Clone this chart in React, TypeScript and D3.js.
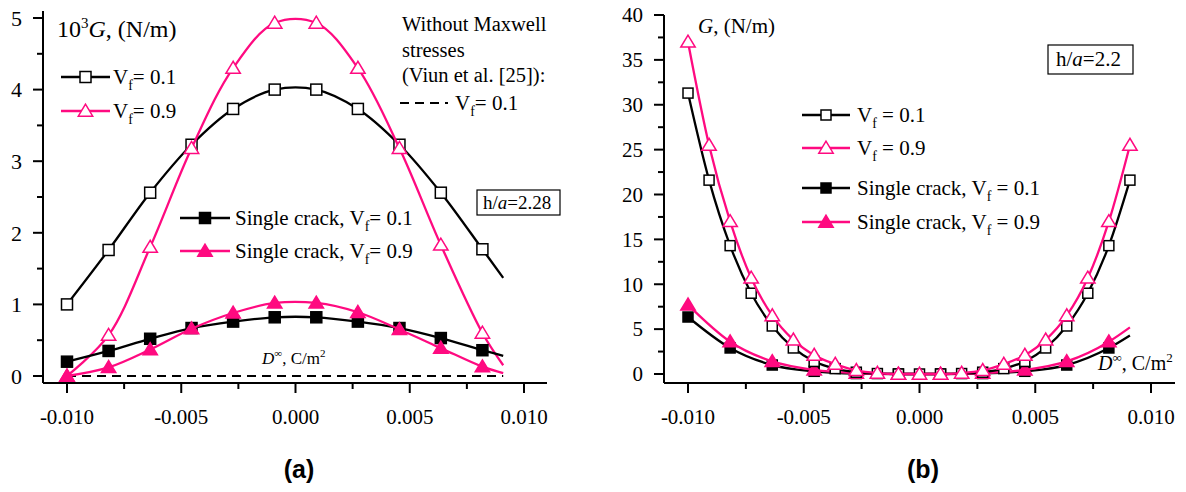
import * as d3 from "d3";

// panel (a): markers every 0.02/11, curves run on to 0.00909
const xA = [-0.01, -0.00818, -0.00636, -0.00455, -0.00273, -0.00091, 0.00091, 0.00273, 0.00455, 0.00636, 0.00818, 0.00909];
const aVf01 = [1.0, 1.76, 2.56, 3.23, 3.73, 4.0, 4.0, 3.73, 3.23, 2.56, 1.77, 1.37];
const aVf09 = [0.0, 0.57, 1.8, 3.18, 4.3, 4.93, 4.93, 4.3, 3.18, 1.83, 0.6, 0.15];
const aSingle01 = [0.2, 0.35, 0.52, 0.67, 0.76, 0.82, 0.82, 0.76, 0.67, 0.53, 0.36, 0.28];
const aSingle09 = [0.0, 0.12, 0.37, 0.66, 0.88, 1.02, 1.02, 0.89, 0.65, 0.39, 0.13, 0.04];
const aNoMaxwellX = [-0.01, 0.00909];
const aNoMaxwellG = [0, 0];

// panel (b)
const xB = [-0.01, -0.00909, -0.00818, -0.00727, -0.00636, -0.00545, -0.00455, -0.00364, -0.00273, -0.00182, -0.00091, 0, 0.00091, 0.00182, 0.00273, 0.00364, 0.00455, 0.00545, 0.00636, 0.00727, 0.00818, 0.00909];
const bVf01 = [31.3, 21.6, 14.3, 9.0, 5.35, 2.9, 1.4, 0.6, 0.2, 0.05, 0.0, 0.0, 0.0, 0.05, 0.2, 0.6, 1.4, 2.9, 5.35, 9.0, 14.3, 21.6];
const bVf09 = [37.0, 25.5, 17.0, 10.7, 6.5, 3.8, 2.1, 1.1, 0.4, 0.1, 0.0, 0.0, 0.0, 0.1, 0.4, 1.1, 2.1, 3.8, 6.5, 10.7, 17.0, 25.5];
const xBSingle = [-0.01, -0.00818, -0.00636, -0.00455, -0.00273, -0.00091, 0.00091, 0.00273, 0.00455, 0.00636, 0.00818, 0.00909];
const bSingle01 = [6.35, 2.9, 1.0, 0.3, 0.05, 0.0, 0.0, 0.05, 0.3, 1.0, 2.9, 4.3];
const bSingle09 = [7.7, 3.6, 1.4, 0.45, 0.1, 0.0, 0.0, 0.1, 0.45, 1.4, 3.6, 5.2];

const xMajor = [-0.01, -0.005, 0, 0.005, 0.01];
const xMinor = [-0.0075, -0.0025, 0.0025, 0.0075];
const aYMajor = [0, 1, 2, 3, 4, 5];
const aYMinor = [0.5, 1.5, 2.5, 3.5, 4.5];
const bYMajor = [0, 5, 10, 15, 20, 25, 30, 35, 40];
const bYMinor = [2.5, 7.5, 12.5, 17.5, 22.5, 27.5, 32.5, 37.5];

const PINK = "#ff0a80";
const FONT = "'Liberation Serif', 'Times New Roman', serif";

const fmtX = (v: number) => d3.format(".3f")(v).replace("\u2212", "-");

type Mk = "sq" | "sqFill" | "tri" | "triFill";

const Marker = ({ kind, x, y, s }: { kind: Mk; x: number; y: number; s: number }) => {
  const color = kind.startsWith("sq") ? "#000" : PINK;
  const fill = kind.endsWith("Fill") ? color : "#fff";
  if (kind.startsWith("sq")) {
    return <rect x={x - s / 2} y={y - s / 2} width={s} height={s} fill={fill} stroke={color} strokeWidth={1.5} />;
  }
  const h = s * 0.95;
  const pts = [[x, y - h * 0.6], [x - s * 0.6, y + h * 0.45], [x + s * 0.6, y + h * 0.45]];
  return <polygon points={pts.map((p) => p.join(",")).join(" ")} fill={fill} stroke={color} strokeWidth={1.5} />;
};

const Series = ({ xs, ys, x, y, kind, s, marks, curve }: any) => {
  const color = kind.startsWith("sq") ? "#000" : PINK;
  const line = d3.line<number>().x((_, i) => x(xs[i])).y((d) => y(d)).curve(curve);
  return (
    <g>
      <path d={line(ys) || ""} fill="none" stroke={color} strokeWidth={2.3} />
      {ys.slice(0, marks).map((v: number, i: number) => (
        <Marker key={i} kind={kind} x={x(xs[i])} y={y(v)} s={s} />
      ))}
    </g>
  );
};

const Axes = ({ x, y, x0, x1, y0, y1, yMajor, yMinor, ySize }: any) => (
  <g stroke="#000" fontFamily={FONT} fontSize={21}>
    <line x1={x0} x2={x1} y1={y0} y2={y0} strokeWidth={2} />
    <line x1={x0} x2={x0} y1={y1} y2={y0} strokeWidth={2} />
    {xMajor.map((t) => (
      <g key={"xm" + t}>
        <line x1={x(t)} x2={x(t)} y1={y0} y2={y0 + 10} strokeWidth={2} />
        <text x={x(t)} y={424} textAnchor="middle" stroke="none" fill="#000">{fmtX(t)}</text>
      </g>
    ))}
    {xMinor.map((t) => (
      <line key={"xn" + t} x1={x(t)} x2={x(t)} y1={y0} y2={y0 + 6} strokeWidth={2} />
    ))}
    {yMajor.map((t: number) => (
      <g key={"ym" + t}>
        <line x1={x0 - 10} x2={x0} y1={y(t)} y2={y(t)} strokeWidth={2} />
        <text x={x0 - 21} y={y(t)} dy="0.35em" textAnchor="end" stroke="none" fill="#000" fontSize={ySize}>{t}</text>
      </g>
    ))}
    {yMinor.map((t: number) => (
      <line key={"yn" + t} x1={x0 - 6} x2={x0} y1={y(t)} y2={y(t)} strokeWidth={2} />
    ))}
  </g>
);

const VfText = ({ x, y, pre = "", v, gap = "", size = 21 }: any) => (
  <text x={x} y={y} fontFamily={FONT} fontSize={size} fill="#000">
    {pre}V<tspan dy={6} fontSize={size * 0.66}>f</tspan>
    <tspan dy={-6}>{gap}= {v}</tspan>
  </text>
);

const LegendRow = ({ x1, x2, y, kind, s, label }: any) => {
  const color = kind.startsWith("sq") ? "#000" : PINK;
  return (
    <g>
      <line x1={x1} x2={x2} y1={y} y2={y} stroke={color} strokeWidth={2.3} />
      <Marker kind={kind} x={(x1 + x2) / 2} y={y} s={s} />
      {label}
    </g>
  );
};

export default function App() {
  const ax = d3.scaleLinear().domain([-0.01, 0.01]).range([67, 524]);
  const ay = d3.scaleLinear().domain([0, 5]).range([376, 18]);
  const bx = d3.scaleLinear().domain([-0.01, 0.01]).range([688, 1151]);
  const by = d3.scaleLinear().domain([0, 40]).range([374, 15]);
  const cr = d3.curveCatmullRom.alpha(0.5);
  const mono = d3.curveMonotoneX;
  const dashLine = d3.line<number>().x((_, i) => ax(aNoMaxwellX[i])).y((d) => ay(d));

  return (
    <svg width={1186} height={492} style={{ position: "absolute", left: 0, top: 0, background: "#fff" }}>
      {/* panel (a) */}
      <Axes x={ax} y={ay} x0={43} x1={547} y0={383} y1={11} yMajor={aYMajor} yMinor={aYMinor} ySize={22} />
      <path d={dashLine(aNoMaxwellG) || ""} fill="none" stroke="#000" strokeWidth={2.2} strokeDasharray="9 6" />
      <Series xs={xA} ys={aVf01} x={ax} y={ay} kind="sq" s={11} marks={11} curve={cr} />
      <Series xs={xA} ys={aVf09} x={ax} y={ay} kind="tri" s={12} marks={11} curve={cr} />
      <Series xs={xA} ys={aSingle01} x={ax} y={ay} kind="sqFill" s={11} marks={11} curve={cr} />
      <Series xs={xA} ys={aSingle09} x={ax} y={ay} kind="triFill" s={12} marks={11} curve={cr} />

      <text x={57} y={37} fontFamily={FONT} fontSize={24} fill="#000">
        10<tspan dy={-9} fontSize={15}>3</tspan>
        <tspan dy={9} fontStyle="italic">G</tspan>, (N/m)
      </text>
      <LegendRow x1={61} x2={110} y={77} kind="sq" s={11} label={<VfText x={113} y={84} v="0.1" />} />
      <LegendRow x1={61} x2={110} y={111} kind="tri" s={12} label={<VfText x={113} y={118} v="0.9" />} />
      <g fontFamily={FONT} fontSize={20.5} fill="#000">
        <text x={402} y={31}>Without Maxwell</text>
        <text x={402} y={57}>stresses</text>
        <text x={402} y={82}>(Viun et al. [25]):</text>
      </g>
      <line x1={400} x2={448} y1={103} y2={103} stroke="#000" strokeWidth={2.2} strokeDasharray="9 6" />
      <VfText x={455} y={110} v="0.1" />
      <rect x={477} y={190} width={83} height={25} fill="#fff" stroke="#000" strokeWidth={1.2} />
      <text x={483} y={209} fontFamily={FONT} fontSize={19} fill="#000">
        h/<tspan fontStyle="italic">a</tspan>=2.28
      </text>
      <LegendRow x1={180} x2={230} y={218} kind="sqFill" s={11} label={<VfText x={235} y={225} pre="Single crack, " v="0.1" />} />
      <LegendRow x1={180} x2={230} y={251} kind="triFill" s={12} label={<VfText x={235} y={258} pre="Single crack, " v="0.9" />} />
      <text x={262} y={364} fontFamily={FONT} fontSize={17} fill="#000">
        <tspan fontStyle="italic">D</tspan>
        <tspan dy={-7} fontSize={11}>∞</tspan>
        <tspan dy={7}>, C/m</tspan>
        <tspan dy={-7} fontSize={11}>2</tspan>
      </text>

      {/* panel (b) */}
      <Axes x={bx} y={by} x0={664} x1={1175} y0={383} y1={15} yMajor={bYMajor} yMinor={bYMinor} ySize={21} />
      <Series xs={xBSingle} ys={bSingle01} x={bx} y={by} kind="sqFill" s={10} marks={11} curve={mono} />
      <Series xs={xBSingle} ys={bSingle09} x={bx} y={by} kind="triFill" s={12} marks={11} curve={mono} />
      <Series xs={xB} ys={bVf01} x={bx} y={by} kind="sq" s={10} marks={22} curve={mono} />
      <Series xs={xB} ys={bVf09} x={bx} y={by} kind="tri" s={12} marks={22} curve={mono} />

      <text x={698} y={33} fontFamily={FONT} fontSize={21} fill="#000">
        <tspan fontStyle="italic">G</tspan>, (N/m)
      </text>
      <rect x={1048} y={45} width={85} height={29} fill="#fff" stroke="#000" strokeWidth={1.2} />
      <text x={1056} y={66} fontFamily={FONT} fontSize={21} fill="#000">
        h/<tspan fontStyle="italic">a</tspan>=2.2
      </text>
      <LegendRow x1={802} x2={850} y={115} kind="sq" s={10} label={<VfText x={857} y={122} v="0.1" gap=" " />} />
      <LegendRow x1={802} x2={850} y={148} kind="tri" s={12} label={<VfText x={857} y={155} v="0.9" gap=" " />} />
      <LegendRow x1={802} x2={850} y={188} kind="sqFill" s={10} label={<VfText x={857} y={195} pre="Single crack, " v="0.1" gap=" " />} />
      <LegendRow x1={802} x2={850} y={222} kind="triFill" s={12} label={<VfText x={857} y={229} pre="Single crack, " v="0.9" gap=" " />} />
      <text x={1098} y={370} fontFamily={FONT} fontSize={20} fill="#000">
        <tspan fontStyle="italic">D</tspan>
        <tspan dy={-8} fontSize={13}>∞</tspan>
        <tspan dy={8}>, C/m</tspan>
        <tspan dy={-8} fontSize={13}>2</tspan>
      </text>

      <g fontFamily="'Liberation Sans', Arial, sans-serif" fontWeight="bold" fontSize={25} fill="#000" textAnchor="middle">
        <text x={299} y={478}>(a)</text>
        <text x={923} y={478}>(b)</text>
      </g>
    </svg>
  );
}
